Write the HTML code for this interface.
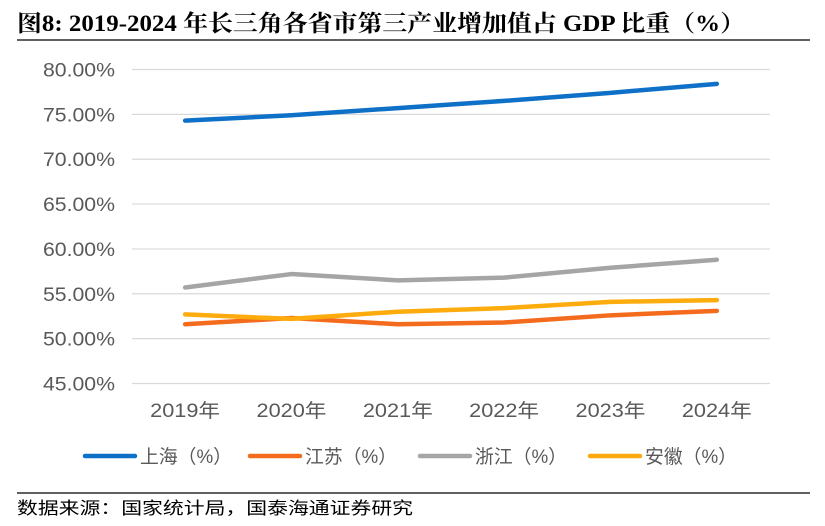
<!DOCTYPE html>
<html><head><meta charset="utf-8"><style>
body{margin:0;background:#fff;width:825px;height:526px;overflow:hidden}
svg{display:block}
</style></head><body>
<svg id="chart" width="825" height="526">
<text x="17" y="31" font-family="'Liberation Serif','Noto Serif CJK SC',serif" font-weight="bold" font-size="23" fill="#000" textLength="728" lengthAdjust="spacingAndGlyphs">图8:  2019-2024 年长三角各省市第三产业增加值占 GDP 比重（%）</text>
<line x1="17" y1="40" x2="810" y2="40" stroke="#000" stroke-width="1.3"/>
<g id="grid"></g><g id="yticks"></g><g id="xticks"></g><g id="series"></g><g id="legend"></g>
<line x1="17" y1="493" x2="810" y2="493" stroke="#000" stroke-width="1.3"/>
<text x="17" y="514" font-family="'Liberation Sans','Noto Sans CJK SC',sans-serif" font-size="17" fill="#000" textLength="396" lengthAdjust="spacingAndGlyphs">数据来源：国家统计局，国泰海通证券研究</text>
</svg>
<script>
const categories=["2019年","2020年","2021年","2022年","2023年","2024年"];
const yTicks=[45,50,55,60,65,70,75,80];
const shanghai=[74.3,74.9,75.7,76.5,77.4,78.4];
const jiangsu=[51.6,52.3,51.6,51.8,52.6,53.1];
const zhejiang=[55.7,57.2,56.5,56.8,57.9,58.8];
const anhui=[52.7,52.2,53.0,53.4,54.1,54.3];
const seriesNames=["上海（%）","江苏（%）","浙江（%）","安徽（%）"];
const seriesColors=["#0f70c8","#f46b1e","#a5a5a5","#fdab0d"];
const allSeries=[shanghai,jiangsu,zhejiang,anhui];
const NS="http://www.w3.org/2000/svg";
const x0=132,x1=770,yTop=69.5,yBot=383.5,yMin=45,yMax=80;
const band=(x1-x0)/categories.length;
const xS=i=>x0+band*(i+0.5);
const yS=v=>yBot-(v-yMin)/(yMax-yMin)*(yBot-yTop);
function mk(tag,attrs,parent){const e=document.createElementNS(NS,tag);for(const k in attrs)e.setAttribute(k,attrs[k]);document.getElementById(parent).appendChild(e);return e;}
const font="'Liberation Sans','Noto Sans CJK SC',sans-serif";
yTicks.forEach(t=>{
 const g=mk('line',{x1:x0,x2:x1,y1:yS(t),y2:yS(t),stroke:'#d9d9d9','stroke-width':1.2},'grid');
 
 
 const l=mk('text',{x:43,y:yS(t)+7,'font-family':font,'font-size':19,fill:'#595959',textLength:72,lengthAdjust:'spacingAndGlyphs'},'yticks');
 l.textContent=t.toFixed(2)+'%';
 
 
});
categories.forEach((c,i)=>{
 const l=mk('text',{x:xS(i)-35,y:417,'font-family':font,'font-size':19,fill:'#595959',textLength:70,lengthAdjust:'spacingAndGlyphs'},'xticks');
 l.textContent=c;
 
 
});
allSeries.forEach((s,k)=>{
 const p=mk('polyline',{points:s.map((v,i)=>xS(i)+','+yS(v)).join(' '),fill:'none',stroke:seriesColors[k],'stroke-width':4.5,'stroke-linejoin':'round','stroke-linecap':'round'},'series');
 
 
});
const lx=[85,250,420,590];
seriesNames.forEach((n,k)=>{
 const ln=mk('line',{x1:lx[k],x2:lx[k]+50,y1:456,y2:456,stroke:seriesColors[k],'stroke-width':4.5,'stroke-linecap':'round'},'legend');
 
 
 const t=mk('text',{x:lx[k]+55,y:463,'font-family':font,'font-size':19,fill:'#595959',textLength:92,lengthAdjust:'spacingAndGlyphs'},'legend');
 t.textContent=n;
 
 
});
</script>
</body></html>
